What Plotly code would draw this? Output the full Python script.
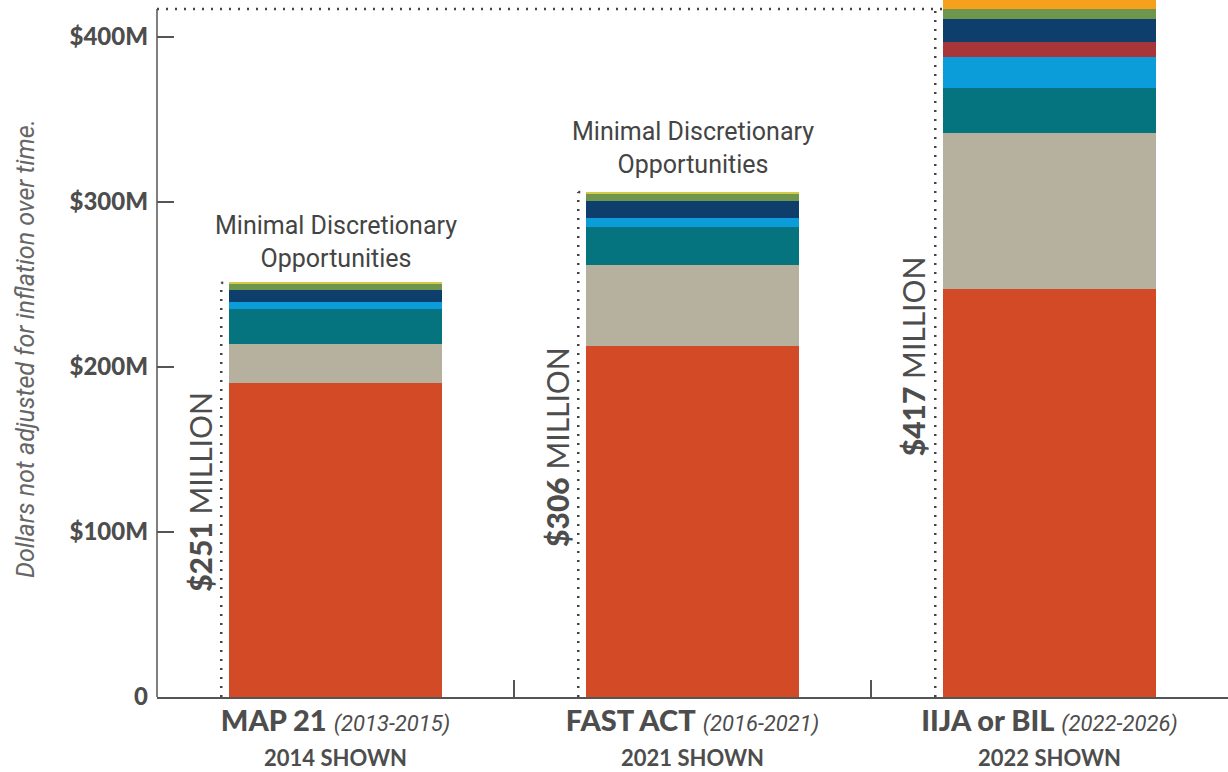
import plotly.graph_objects as go

# ---- data ----
programs = ["MAP 21", "FAST ACT", "IIJA or BIL"]
periods = ["(2013-2015)", "(2016-2021)", "(2022-2026)"]
shown = ["2014 SHOWN", "2021 SHOWN", "2022 SHOWN"]
totals = [251, 306, 417]
y_ticks = [0, 100, 200, 300, 400]
y_tick_labels = ["0", "$100M", "$200M", "$300M", "$400M"]
note_text = "Minimal Discretionary<br>Opportunities"
note_values = [276, 333]

seg_red = [190, 213, 247]
seg_beige = [24, 49, 95]
seg_teal = [21, 23, 27]
seg_blue = [4.2, 5.3, 18.8]
seg_maroon = [0, 0, 9]
seg_navy = [7.3, 10, 14]
seg_green = [4, 5, 6]
seg_yellow = [0.6, 0.7, 0]
seg_orange = [0, 0, 10]

segments = [
    ("Segment 1", seg_red, "#D34A27"),
    ("Segment 2", seg_beige, "#B6B09F"),
    ("Segment 3", seg_teal, "#06747E"),
    ("Segment 4", seg_blue, "#0B9DD9"),
    ("Segment 5", seg_maroon, "#A8353A"),
    ("Segment 6", seg_navy, "#0E3E6B"),
    ("Segment 7", seg_green, "#6E974D"),
    ("Segment 8", seg_yellow, "#D6C84A"),
    ("Segment 9", seg_orange, "#F6A11E"),
]

BOLD = "Lato, Open Sans, sans-serif"
COND = "Roboto, Liberation Sans, sans-serif"
GRAY = "#4d4d4d"

fig = go.Figure()
for name, vals, col in segments:
    fig.add_trace(go.Bar(
        x=programs, y=vals, name=name, marker=dict(color=col, line=dict(width=0)),
        width=0.595, showlegend=False,
    ))

ticktext = [
    f"<span style='font-size:29px;font-weight:900'>{p}</span> "
    f"<i><span style='font-family:Roboto;font-size:22px'>{per}</span></i>"
    f"<br><span style='font-size:22px;font-weight:700'>{s}</span>"
    for p, per, s in zip(programs, periods, shown)
]

BAR_HALF = 0.595 / 2
DOT_OFF = 0.32
dot_line = dict(color="#444444", width=2.5, dash="2px,7px")
shapes = []
for i, t in enumerate(totals):
    shapes.append(dict(type="line", xref="x", yref="y", x0=i - DOT_OFF, x1=i - DOT_OFF,
                       y0=0, y1=t, line=dot_line, layer="above"))
    x_start = -0.5 if i == len(totals) - 1 else i - DOT_OFF
    shapes.append(dict(type="line", xref="x", yref="y", x0=x_start, x1=i - BAR_HALF,
                       y0=t, y1=t, line=dot_line, layer="above"))
# y-axis line up to the top total
shapes.append(dict(type="line", xref="paper", yref="y", x0=0, x1=0, y0=0, y1=max(totals),
                   line=dict(color="#555555", width=1.5)))

annotations = []
for i, t in enumerate(totals):
    annotations.append(dict(
        x=i - 0.38, y=t * 0.495, xref="x", yref="y", yanchor="middle",
        text=f"<span style='font-weight:900'>${t}</span> MILLION", textangle=-90,
        showarrow=False,
        font=dict(family=BOLD, size=30, color=GRAY, weight=400),
    ))
for i, v in enumerate(note_values):
    annotations.append(dict(
        x=i, y=v, xref="x", yref="y", text=note_text, showarrow=False,
        font=dict(family=COND, size=25, color="#444444"),
    ))

fig.update_layout(
    width=1228, height=772,
    margin=dict(l=157, r=0, t=0, b=75),
    barmode="stack", bargap=0.4,
    plot_bgcolor="white", paper_bgcolor="white",
    shapes=shapes, annotations=annotations,
    xaxis=dict(
        type="category", range=[-0.5, 2.5], tickvals=programs, ticktext=ticktext,
        tickson="boundaries", ticks="inside", ticklen=17, tickcolor="#555555", tickwidth=1.5,
        showline=True, linecolor="#555555", linewidth=1.5, showgrid=False, automargin=False,
        tickfont=dict(family=BOLD, size=27, color=GRAY),
    ),
    yaxis=dict(
        range=[0, 422.4], tickvals=y_ticks, ticktext=y_tick_labels,
        ticks="inside", ticklen=17, tickcolor="#555555", tickwidth=1.5,
        showline=False, showgrid=False, zeroline=False, ticklabelstandoff=8, automargin=False,
        tickfont=dict(family=BOLD, size=24, color=GRAY, weight=900),
        title=dict(text="<i>Dollars not adjusted for inflation over time.</i>",
                   font=dict(family=COND, size=25, color="#666666"), standoff=27),
    ),
)

fig.write_html("out.html", config={"displayModeBar": False},
               post_script="document.body.style.margin='0';")
